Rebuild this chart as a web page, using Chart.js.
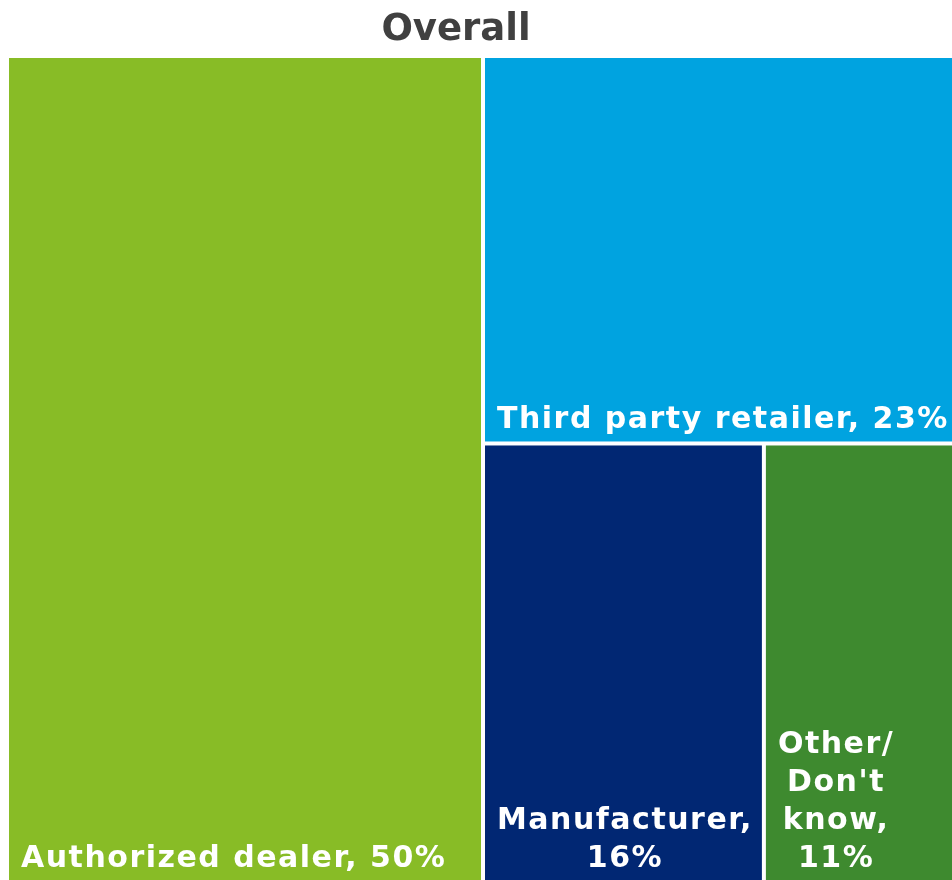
<!DOCTYPE html>
<html>
<head>
<meta charset="utf-8">
<script src="https://cdn.jsdelivr.net/npm/chart.js@4/dist/chart.umd.min.js"></script>
<style>
  html, body { margin: 0; padding: 0; background: #ffffff; overflow: hidden; }
  #view { width: 952px; height: 880px; overflow: hidden; position: relative; }
  /* the tile field runs a little past the right and bottom edges of the view */
  #wrap { width: 957px; height: 896px; position: absolute; left: 0; top: 0; }
</style>
</head>
<body>
<div id="view"><div id="wrap"><canvas id="c"></canvas></div></div>
<script>
// Where customers buy: share of respondents by channel
const chartTitle = 'Overall';
const categories = ['Authorized dealer', 'Third party retailer', 'Manufacturer', "Other/Don't know"];
const shares = [50, 23, 16, 11];
const tileColors = ['#88BC26', '#00A3E0', '#012773', '#3E8A2F'];

const FONT = '"DejaVu Sans", Verdana, sans-serif';

// Squarified treemap layout in pixel-proportional space
function worst(row, side) {
  const s = row.reduce((a, b) => a + b, 0);
  const mx = Math.max(...row), mn = Math.min(...row);
  return Math.max(side * side * mx / (s * s), (s * s) / (side * side * mn));
}
function squarify(areas, x, y, w, h) {
  const out = [];
  let i = 0;
  while (i < areas.length) {
    const side = Math.min(w, h);
    const row = [areas[i]];
    let j = i + 1;
    while (j < areas.length && worst(row.concat(areas[j]), side) <= worst(row, side)) {
      row.push(areas[j]); j++;
    }
    const s = row.reduce((a, b) => a + b, 0);
    if (w >= h) {
      const t = s / h; let yy = y;
      row.forEach(a => { const hh = a / t; out.push({ x, y: yy, w: t, h: hh }); yy += hh; });
      x += t; w -= t;
    } else {
      const t = s / w; let xx = x;
      row.forEach(a => { const ww = a / t; out.push({ x: xx, y, w: ww, h: t }); xx += ww; });
      y += t; h -= t;
    }
    i = j;
  }
  return out;
}

// Break a label into words; a slash also allows a break after it
function tokens(label) {
  const parts = [];
  label.split(' ').forEach(word => {
    word.split(/(?<=\/)/).forEach((piece, k) => parts.push({ t: piece, sp: k === 0 }));
  });
  return parts;
}
function wrap(ctx, label, maxW) {
  const parts = tokens(label);
  const lines = [];
  let cur = '';
  parts.forEach((p, idx) => {
    if (idx === 0) { cur = p.t; return; }
    const trial = cur + (p.sp ? ' ' : '') + p.t;
    if (ctx.measureText(trial).width <= maxW) cur = trial;
    else { lines.push(cur); cur = p.t; }
  });
  lines.push(cur);
  return lines;
}

const treemapPlugin = {
  id: 'treemapTiles',
  afterDatasetsDraw(chart) {
    const { ctx, chartArea: area, scales } = chart;
    const xs = scales.x, ys = scales.y;
    const W = area.right - area.left, H = area.bottom - area.top;
    const total = shares.reduce((a, b) => a + b, 0);
    const areas = shares.map(v => v / total * W * H);
    const rects = squarify(areas, 0, 0, W, H);
    const gap = 2;
    const view = document.getElementById('view');
    const visibleBottom = view.clientHeight;
    const visibleRight = view.clientWidth;

    rects.forEach((r, i) => {
      // layout -> scale units (0..100) -> pixels through the scales
      let x0 = xs.getPixelForValue(r.x / W * 100);
      let x1 = xs.getPixelForValue((r.x + r.w) / W * 100);
      let y0 = ys.getPixelForValue(r.y / H * 100);
      let y1 = ys.getPixelForValue((r.y + r.h) / H * 100);
      if (x0 > area.left + 0.5) x0 += gap;
      if (x1 < area.right - 0.5) x1 -= gap;
      if (y0 > area.top + 0.5) y0 += gap;
      if (y1 < area.bottom - 0.5) y1 -= gap;

      ctx.save();
      ctx.fillStyle = tileColors[i];
      ctx.fillRect(x0, y0, x1 - x0, y1 - y0);

      ctx.font = 'bold 30px ' + FONT;
      ctx.letterSpacing = '1.5px';
      ctx.fillStyle = '#ffffff';
      ctx.textBaseline = 'alphabetic';
      const padX = 12, padB = 13, lineH = 38;
      const label = categories[i] + ', ' + shares[i] + '%';
      const right = Math.min(x1, visibleRight + 5);
      const lines = wrap(ctx, label, (right - x0) - padX - 4);
      const blockW = Math.max(...lines.map(l => ctx.measureText(l).width));
      const cx = x0 + padX + blockW / 2;
      const bottom = Math.min(y1, visibleBottom);
      ctx.textAlign = 'center';
      lines.forEach((l, k) => {
        const base = bottom - padB - (lines.length - 1 - k) * lineH;
        ctx.fillText(l, cx, base);
      });
      ctx.restore();
    });

    // heading
    ctx.save();
    ctx.font = 'bold 37px ' + FONT;
    ctx.fillStyle = '#404040';
    ctx.textAlign = 'center';
    ctx.textBaseline = 'alphabetic';
    ctx.fillText(chartTitle, visibleRight / 2 - 20, 40);
    ctx.restore();
  }
};

new Chart(document.getElementById('c'), {
  type: 'scatter',
  data: { datasets: [{ label: chartTitle, data: [] }] },
  options: {
    responsive: true,
    maintainAspectRatio: false,
    animation: false,
    layout: { padding: { left: 9, top: 58, right: 0, bottom: 0 } },
    scales: {
      x: { type: 'linear', min: 0, max: 100, display: false },
      y: { type: 'linear', min: 0, max: 100, reverse: true, display: false }
    },
    plugins: {
      legend: { display: false },
      tooltip: { enabled: false },
      title: { display: false }
    }
  },
  plugins: [treemapPlugin]
});
</script>
</body>
</html>
